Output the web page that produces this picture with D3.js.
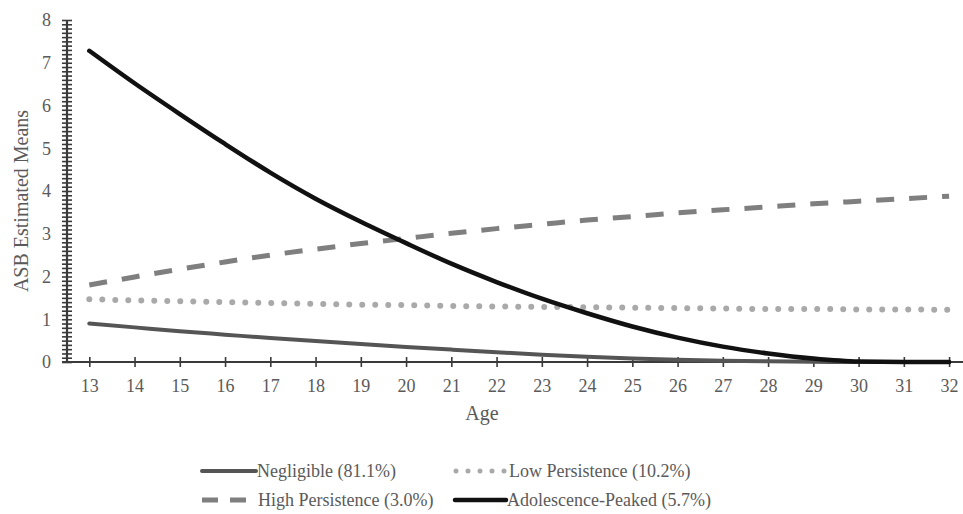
<!DOCTYPE html>
<html>
<head>
<meta charset="utf-8">
<script src="https://cdn.jsdelivr.net/npm/d3@7/dist/d3.min.js"></script>
<style>
  body { margin: 0; background: #fff; }
  svg { display: block; }
  svg text { font-family: "Liberation Serif", "DejaVu Serif", serif !important; }
</style>
</head>
<body>
<svg id="chart" width="963" height="514"></svg>
<script>
const ages = [13,14,15,16,17,18,19,20,21,22,23,24,25,26,27,28,29,30,31,32];
const negligible = [0.90,0.81,0.72,0.64,0.56,0.49,0.42,0.35,0.29,0.23,0.17,0.12,0.08,0.05,0.03,0.015,0.005,0,0,0];
const lowPersistence = [1.47,1.44,1.42,1.40,1.38,1.36,1.34,1.33,1.31,1.30,1.29,1.28,1.27,1.26,1.25,1.24,1.24,1.23,1.23,1.22];
const highPersistence = [1.80,1.99,2.17,2.34,2.50,2.64,2.77,2.89,3.01,3.12,3.22,3.32,3.40,3.49,3.56,3.63,3.70,3.76,3.82,3.88];
const adolescencePeaked = [7.28,6.52,5.80,5.10,4.43,3.82,3.28,2.78,2.30,1.87,1.48,1.14,0.83,0.57,0.36,0.20,0.08,0.01,0,0];
const yTicks = [0,1,2,3,4,5,6,7,8];
const seriesNames = ["Negligible (81.1%)","Low Persistence (10.2%)","High Persistence (3.0%)","Adolescence-Peaked (5.7%)"];

const svg = d3.select("#chart");
const x = d3.scaleLinear().domain([13,32]).range([89.3, 949.1]);
const y = d3.scaleLinear().domain([0,8]).range([362, 20]);
const axisColor = "#3a3a3a";
const labelColor = "#5a5a5a";
const serif = "Liberation Serif";

// Y minor ticks
const yMinor = svg.append("g").attr("transform","translate(67,0)")
  .call(d3.axisLeft(y).tickValues(d3.range(0,80.5,1).map(d=>d/10)).tickFormat("").tickSize(5));
yMinor.select(".domain").remove();
yMinor.selectAll(".tick line").attr("x1",-5).attr("x2",5).attr("stroke",axisColor).attr("stroke-width",1.6);

// Y labels
const yLab = svg.append("g").attr("transform","translate(67,0)")
  .call(d3.axisLeft(y).tickValues(yTicks).tickFormat(d3.format("d")).tickSize(0).tickPadding(16));
yLab.attr("font-family",serif);
yLab.select(".domain").remove();
yLab.selectAll("text").attr("font-size",18).attr("fill",labelColor);

svg.append("line").attr("x1",67).attr("x2",67).attr("y1",y(8)).attr("y2",y(0)+1)
  .attr("stroke",axisColor).attr("stroke-width",2.2);

// X axis
const xAx = svg.append("g").attr("transform",`translate(0,${y(0)})`)
  .call(d3.axisBottom(x).tickValues(ages).tickFormat(d3.format("d")).tickSize(5).tickPadding(12));
xAx.attr("font-family",serif);
xAx.select(".domain").remove();
xAx.selectAll(".tick line").attr("y1",-5).attr("y2",5).attr("stroke",axisColor).attr("stroke-width",1.6);
xAx.selectAll("text").attr("font-size",18).attr("fill",labelColor);
svg.append("line").attr("x1",62).attr("x2",963).attr("y1",y(0)).attr("y2",y(0))
  .attr("stroke",axisColor).attr("stroke-width",2.2);

// Axis titles
svg.append("text").attr("x",482).attr("y",420).attr("text-anchor","middle").attr("font-family",serif)
  .attr("font-size",20).attr("fill",labelColor).text("Age");
svg.append("text").attr("transform","translate(28,201) rotate(-90)").attr("text-anchor","middle").attr("font-family",serif)
  .attr("font-size",20).attr("fill",labelColor).text("ASB Estimated Means");

const line = d3.line().x((d,i)=>x(ages[i])).y(d=>y(d)).curve(d3.curveMonotoneX);

const styles = [
  {data: negligible, color:"#555555", width:4, dash:null, cap:"round"},
  {data: lowPersistence, color:"#a9a9a9", width:6, dash:"0 13", cap:"round"},
  {data: highPersistence, color:"#7f7f7f", width:5, dash:"18 15", cap:"butt"},
  {data: adolescencePeaked, color:"#111111", width:4.5, dash:null, cap:"round"}
];
styles.forEach(s=>{
  svg.append("path").datum(s.data).attr("d",line).attr("fill","none")
    .attr("stroke",s.color).attr("stroke-width",s.width)
    .attr("stroke-dasharray",s.dash).attr("stroke-linecap",s.cap);
});

// Legend
const legPos = [
  {x1:202,x2:256,y:471,tx:257},
  {x1:456,x2:505,y:471,tx:509},
  {x1:202,x2:252,y:500,tx:258},
  {x1:455,x2:506,y:500,tx:507}
];
legPos.forEach((p,i)=>{
  const s = styles[i];
  svg.append("line").attr("x1",p.x1).attr("x2",p.x2).attr("y1",p.y).attr("y2",p.y)
    .attr("stroke",s.color).attr("stroke-width",s.width===6?5:s.width)
    .attr("stroke-dasharray",s.dash ? (i===1?"0 12":"16 12") : null)
    .attr("stroke-linecap",s.cap);
  svg.append("text").attr("x",p.tx).attr("y",p.y).attr("dy","0.35em").attr("font-family",serif)
    .attr("font-size",18).attr("fill",labelColor).text(seriesNames[i]);
});
</script>
</body>
</html>
